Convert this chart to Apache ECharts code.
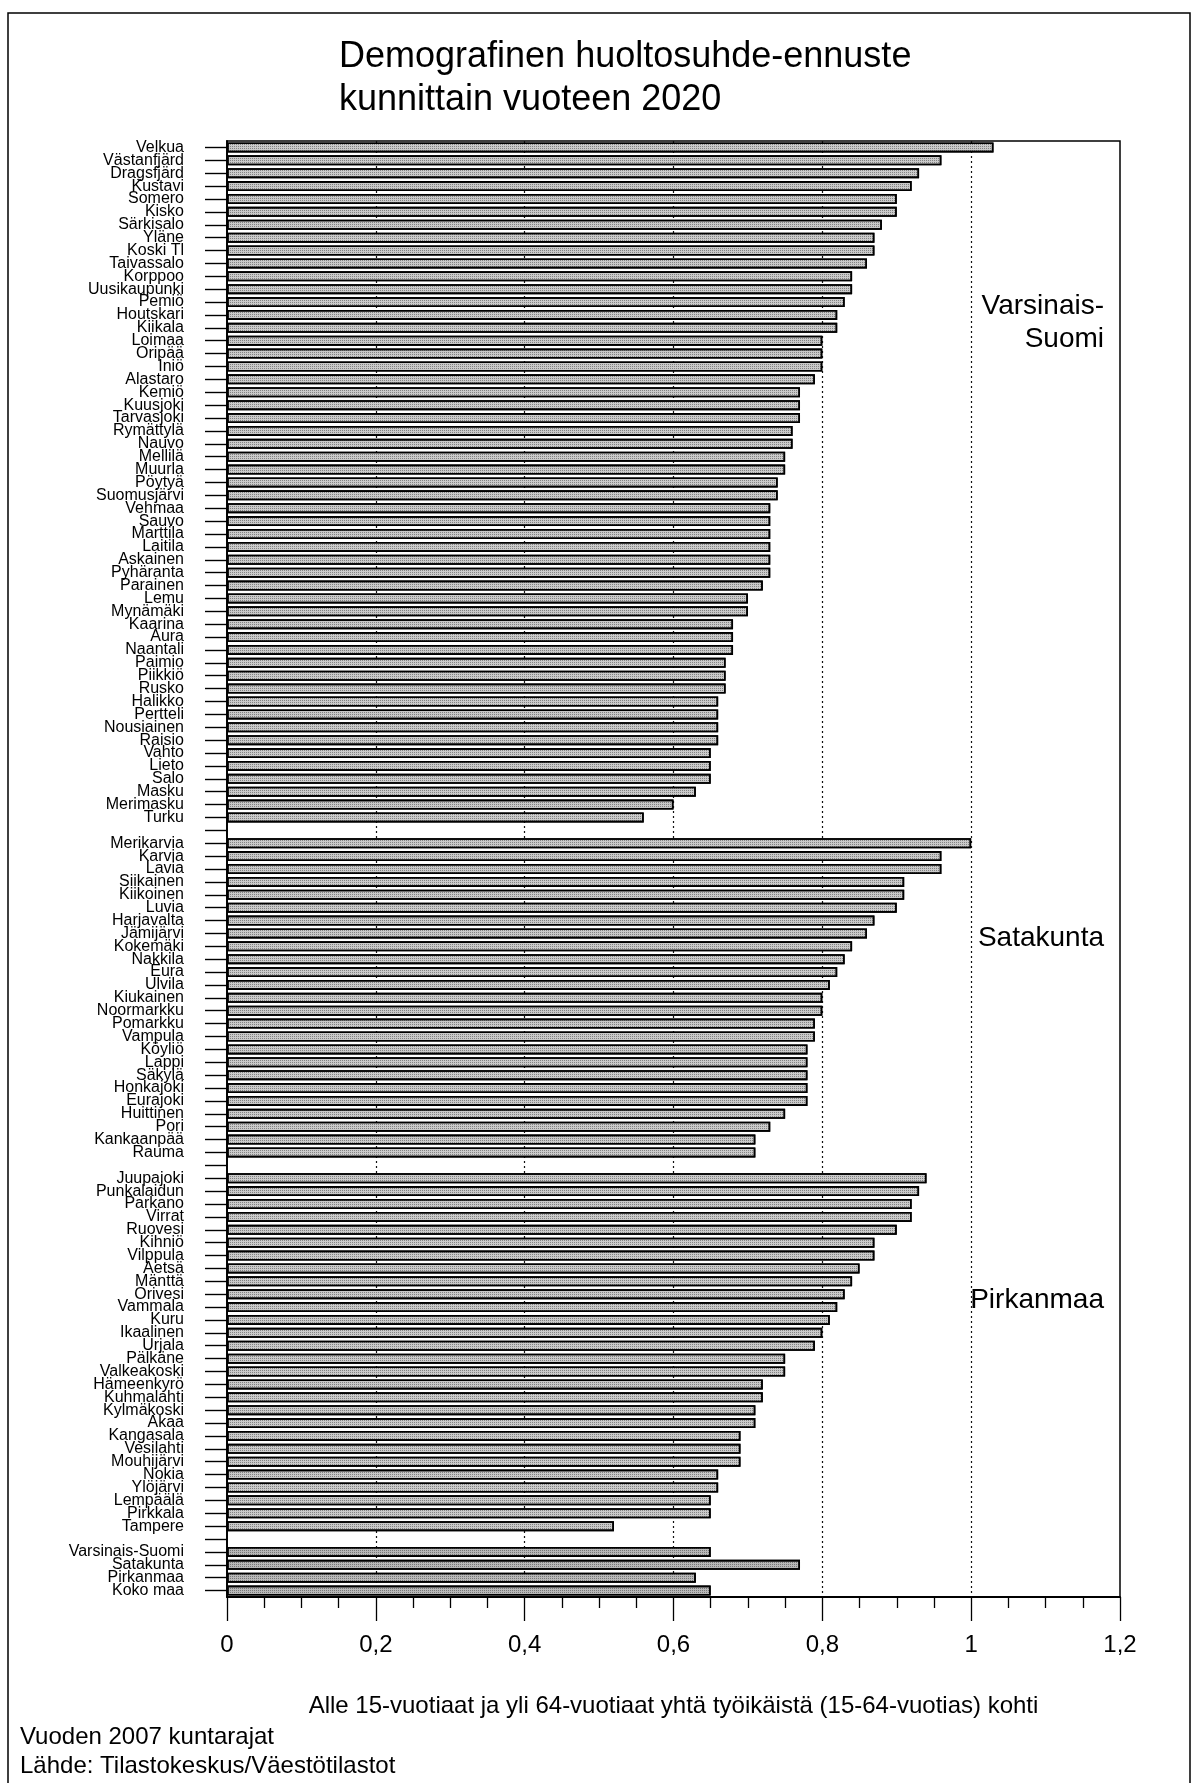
<!DOCTYPE html>
<html><head><meta charset="utf-8">
<script src="https://cdn.jsdelivr.net/npm/echarts@6/dist/echarts.min.js"></script>
<style>html,body{margin:0;padding:0;background:#fff}#c{width:1193px;height:1783px}</style>
</head><body><div id="c"></div>
<script>
// --- Data ---
const vsNames = ['Velkua','Västanfjärd','Dragsfjärd','Kustavi','Somero','Kisko','Särkisalo','Yläne','Koski Tl','Taivassalo','Korppoo','Uusikaupunki','Pemiö','Houtskari','Kiikala','Loimaa','Oripää','Iniö','Alastaro','Kemiö','Kuusjoki','Tarvasjoki','Rymättylä','Nauvo','Mellilä','Muurla','Pöytyä','Suomusjärvi','Vehmaa','Sauvo','Marttila','Laitila','Askainen','Pyhäranta','Parainen','Lemu','Mynämäki','Kaarina','Aura','Naantali','Paimio','Piikkiö','Rusko','Halikko','Pertteli','Nousiainen','Raisio','Vahto','Lieto','Salo','Masku','Merimasku','Turku'];
const vsValues = [1.03,0.96,0.93,0.92,0.90,0.90,0.88,0.87,0.87,0.86,0.84,0.84,0.83,0.82,0.82,0.80,0.80,0.80,0.79,0.77,0.77,0.77,0.76,0.76,0.75,0.75,0.74,0.74,0.73,0.73,0.73,0.73,0.73,0.73,0.72,0.70,0.70,0.68,0.68,0.68,0.67,0.67,0.67,0.66,0.66,0.66,0.66,0.65,0.65,0.65,0.63,0.60,0.56];

const satNames = ['Merikarvia','Karvia','Lavia','Siikainen','Kiikoinen','Luvia','Harjavalta','Jämijärvi','Kokemäki','Nakkila','Eura','Ulvila','Kiukainen','Noormarkku','Pomarkku','Vampula','Köyliö','Lappi','Säkylä','Honkajoki','Eurajoki','Huittinen','Pori','Kankaanpää','Rauma'];
const satValues = [1.00,0.96,0.96,0.91,0.91,0.90,0.87,0.86,0.84,0.83,0.82,0.81,0.80,0.80,0.79,0.79,0.78,0.78,0.78,0.78,0.78,0.75,0.73,0.71,0.71];

const pirNames = ['Juupajoki','Punkalaidun','Parkano','Virrat','Ruovesi','Kihniö','Vilppula','Aetsä','Mänttä','Orivesi','Vammala','Kuru','Ikaalinen','Urjala','Pälkäne','Valkeakoski','Hämeenkyrö','Kuhmalahti','Kylmäkoski','Akaa','Kangasala','Vesilahti','Mouhijärvi','Nokia','Ylöjärvi','Lempäälä','Pirkkala','Tampere'];
const pirValues = [0.94,0.93,0.92,0.92,0.90,0.87,0.87,0.85,0.84,0.83,0.82,0.81,0.80,0.79,0.75,0.75,0.72,0.72,0.71,0.71,0.69,0.69,0.69,0.66,0.66,0.65,0.65,0.52];

const sumNames = ['Varsinais-Suomi','Satakunta','Pirkanmaa','Koko maa'];
const sumValues = [0.65,0.77,0.63,0.65];

const groupLabels = ['Varsinais-\nSuomi','Satakunta','Pirkanmaa'];
const xTicks = [0,0.2,0.4,0.6,0.8,1,1.2];

const titleText = 'Demografinen huoltosuhde-ennuste\nkunnittain vuoteen 2020';
const axisTitle = 'Alle 15-vuotiaat ja yli 64-vuotiaat yhtä työikäistä (15-64-vuotias) kohti';
const note1 = 'Vuoden 2007 kuntarajat';
const note2 = 'Lähde: Tilastokeskus/Väestötilastot';

// --- Build axis + series data ---
const categories = [...vsNames, ' ', ...satNames, '  ', ...pirNames, '   ', ...sumNames];
const barData = [
  ...vsValues, null, ...satValues, null, ...pirValues, null,
  ...sumValues.map(v => ({ value: v, itemStyle: { color: '#b8b8b8' } }))
];

const FONT = '"Liberation Sans", Arial, sans-serif';
const chart = echarts.init(document.getElementById('c'), null, { renderer: 'canvas' });

chart.setOption({
  backgroundColor: '#fff',
  animation: false,
  title: {
    text: titleText, left: 339, top: 36, padding: 0,
    textStyle: { fontSize: 36, fontWeight: 'normal', fontFamily: FONT, color: '#000', lineHeight: 43 }
  },
  grid: { left: 227, right: 73, top: 141, height: 1456, show: true, borderColor: '#000', borderWidth: 1.5, containLabel: false },
  xAxis: {
    type: 'value', min: xTicks[0], max: xTicks[xTicks.length - 1], interval: 0.2,
    axisLine: { show: true, lineStyle: { color: '#000', width: 1.8 } },
    axisTick: { show: true, length: 24, lineStyle: { color: '#000', width: 1.3 } },
    minorTick: { show: true, splitNumber: 4, length: 11, lineStyle: { color: '#000', width: 1.3 } },
    splitLine: { show: true, showMinLine: false, showMaxLine: false, lineStyle: { color: '#111', width: 1.2, type: [2, 3] } },
    axisLabel: {
      margin: 36, fontSize: 24, fontFamily: FONT, color: '#000',
      formatter: v => (Math.round(v * 10) / 10).toString().replace('.', ',')
    },
    name: axisTitle, nameLocation: 'middle', nameGap: 97,
    nameTextStyle: { fontSize: 24, fontFamily: FONT, color: '#000' }
  },
  yAxis: {
    type: 'category', inverse: true, data: categories,
    axisLine: { show: true, lineStyle: { color: '#000', width: 1.8 } },
    axisTick: { show: true, length: 22, alignWithLabel: true, interval: 0, lineStyle: { color: '#000', width: 1.4 } },
    axisLabel: { interval: 0, margin: 43, fontSize: 16, fontFamily: FONT, color: '#000' },
    splitLine: { show: false }
  },
  series: [{
    type: 'bar', data: barData, barWidth: 10,
    itemStyle: {
      color: '#cacaca', borderColor: '#000', borderWidth: 1.6,
      decal: { symbol: 'rect', symbolSize: 1, dashArrayX: [1, 1], dashArrayY: [1, 1], color: 'rgba(0,0,0,0.35)' }
    }
  }],
  graphic: [
    { type: 'rect', silent: true, shape: { x: 8, y: 13, width: 1182, height: 1790 }, style: { fill: 'none', stroke: '#000', lineWidth: 1.5 } },
    { type: 'text', silent: true, style: { text: groupLabels[0], x: 1104, y: 323, font: '28px ' + FONT, fill: '#000', textAlign: 'right', align: 'right', textVerticalAlign: 'middle', verticalAlign: 'middle', lineHeight: 33 } },
    { type: 'text', silent: true, style: { text: groupLabels[1], x: 1104, y: 938, font: '28px ' + FONT, fill: '#000', textAlign: 'right', align: 'right', textVerticalAlign: 'middle', verticalAlign: 'middle' } },
    { type: 'text', silent: true, style: { text: groupLabels[2], x: 1104, y: 1300, font: '28px ' + FONT, fill: '#000', textAlign: 'right', align: 'right', textVerticalAlign: 'middle', verticalAlign: 'middle' } },
    { type: 'text', silent: true, style: { text: note1, x: 20, y: 1737, font: '24px ' + FONT, fill: '#000', textVerticalAlign: 'middle', verticalAlign: 'middle' } },
    { type: 'text', silent: true, style: { text: note2, x: 20, y: 1766, font: '24px ' + FONT, fill: '#000', textVerticalAlign: 'middle', verticalAlign: 'middle' } }
  ]
});
</script>
</body></html>
